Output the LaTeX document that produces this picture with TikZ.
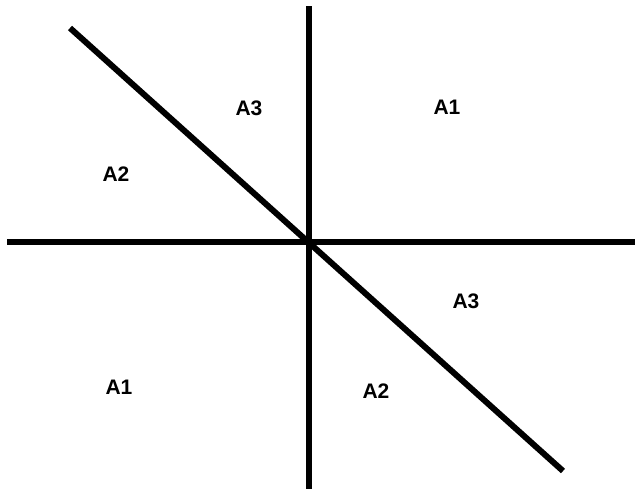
\documentclass[tikz,border=0pt]{standalone}
\usepackage{fontspec}
\setmainfont{Liberation Sans}
\usetikzlibrary{positioning}

\begin{document}
\begin{tikzpicture}[x=1pt,y=-1pt]
    \tikzset{axisline/.style={line width=6pt,black},
      regionlabel/.style={font=\fontsize{21}{24}\selectfont\bfseries,inner sep=0pt}}
    \useasboundingbox (0,0) rectangle (635,493);
    % axes and the diagonal through the origin
    \coordinate (top) at (309,6);
    \coordinate (bottom) at (309,489);
    \coordinate (left) at (7,242);
    \coordinate (right) at (635,242);
    \coordinate (nw) at (70,28);
    \coordinate (se) at (563,471);
    \draw[axisline] (top)--(bottom);
    \draw[axisline] (left)--(right);
    \draw[axisline] (nw)--(se);
    % region labels
    \node[regionlabel] (a3up) at (249,108) {A3};
    \node[regionlabel] (a1up) at (447,107) {A1};
    \node[regionlabel] (a2up) at (116,174) {A2};
    \node[regionlabel] (a3dn) at (466,301) {A3};
    \node[regionlabel] (a1dn) at (119,387) {A1};
    \node[regionlabel] (a2dn) at (376,391) {A2};
  \end{tikzpicture}
\end{document}
